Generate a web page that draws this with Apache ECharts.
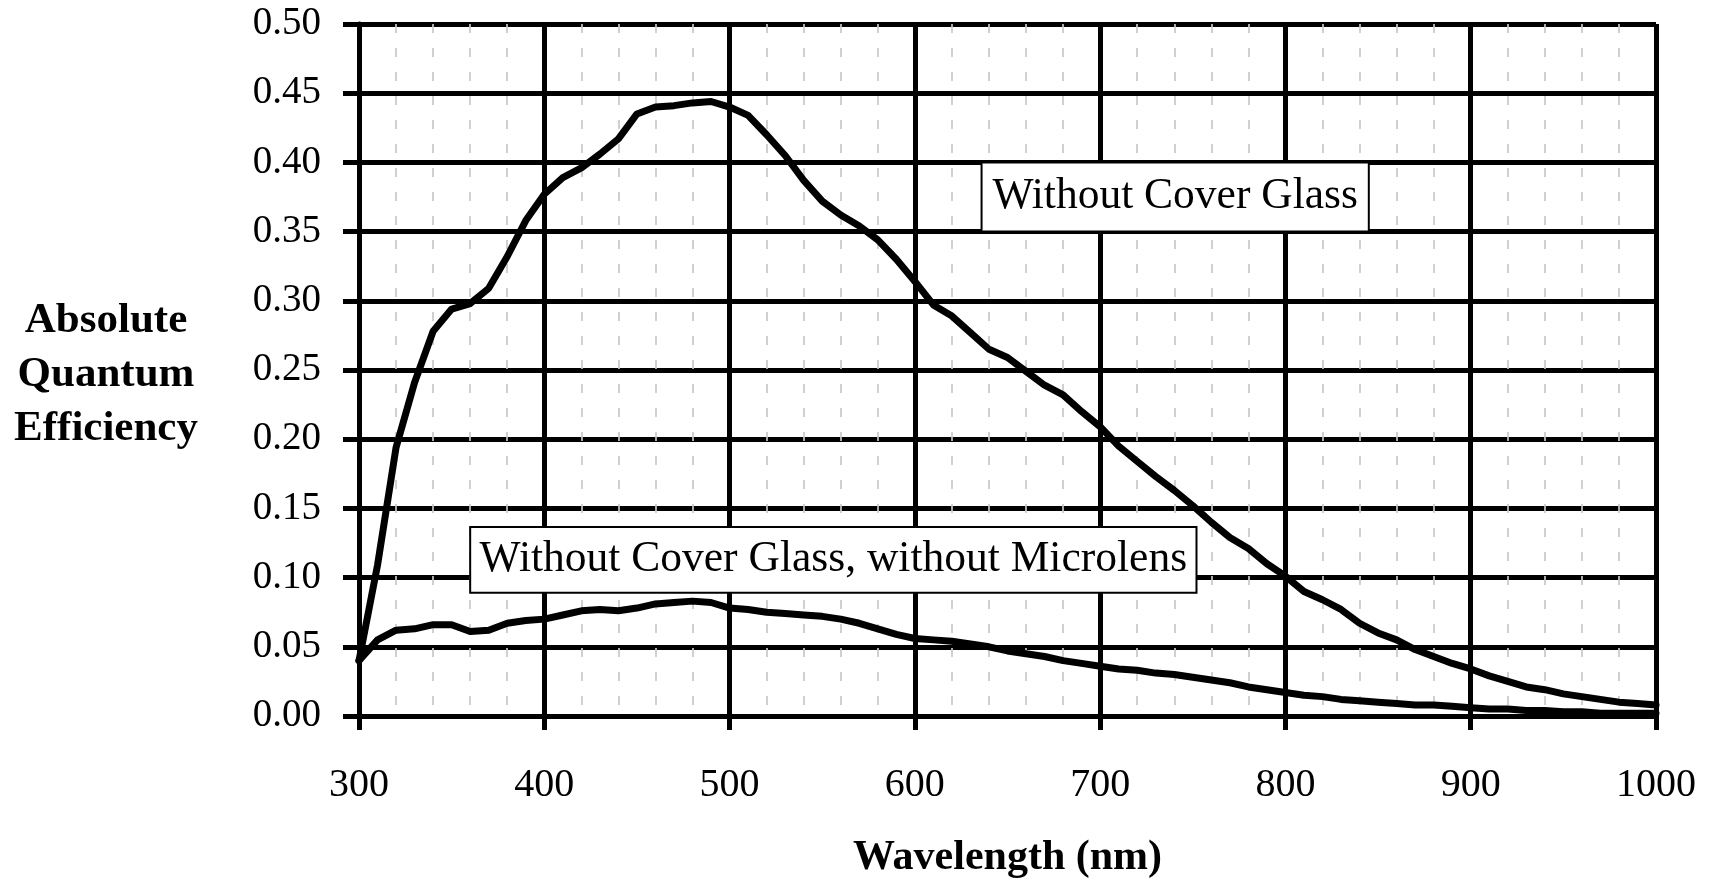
<!DOCTYPE html>
<html>
<head>
<meta charset="utf-8">
<title>Absolute Quantum Efficiency</title>
<script src="https://cdn.jsdelivr.net/npm/echarts@6/dist/echarts.min.js"></script>
<style>
  html, body { margin: 0; padding: 0; background: #fff; }
  #chart { width: 1713px; height: 878px; }
</style>
</head>
<body>
<div id="chart"></div>
<script>
// Wavelength samples (nm), 10 nm apart
const wavelengths = [
  300, 310, 320, 330, 340, 350, 360, 370, 380, 390,
  400, 410, 420, 430, 440, 450, 460, 470, 480, 490,
  500, 510, 520, 530, 540, 550, 560, 570, 580, 590,
  600, 610, 620, 630, 640, 650, 660, 670, 680, 690,
  700, 710, 720, 730, 740, 750, 760, 770, 780, 790,
  800, 810, 820, 830, 840, 850, 860, 870, 880, 890,
  900, 910, 920, 930, 940, 950, 960, 970, 980, 990,
  1000
];

// Quantum efficiency without cover glass
const qeNoCoverGlass = [
  0.040, 0.109, 0.194, 0.241, 0.278, 0.294, 0.298, 0.309, 0.332, 0.358,
  0.377, 0.389, 0.396, 0.406, 0.417, 0.435, 0.440, 0.441, 0.443, 0.444,
  0.440, 0.434, 0.420, 0.405, 0.387, 0.372, 0.362, 0.354, 0.344, 0.330,
  0.314, 0.297, 0.289, 0.277, 0.265, 0.259, 0.249, 0.239, 0.232, 0.220,
  0.209, 0.195, 0.184, 0.173, 0.163, 0.152, 0.140, 0.129, 0.121, 0.110,
  0.101, 0.090, 0.084, 0.077, 0.067, 0.060, 0.055, 0.048, 0.043, 0.038,
  0.034, 0.029, 0.025, 0.021, 0.019, 0.016, 0.014, 0.012, 0.010, 0.009,
  0.008
];

// Quantum efficiency without cover glass and without microlens
const qeNoCoverNoLens = [
  0.040, 0.055, 0.062, 0.063, 0.066, 0.066, 0.061, 0.062, 0.067, 0.069,
  0.070, 0.073, 0.076, 0.077, 0.076, 0.078, 0.081, 0.082, 0.083, 0.082,
  0.078, 0.077, 0.075, 0.074, 0.073, 0.072, 0.070, 0.067, 0.063, 0.059,
  0.056, 0.055, 0.054, 0.052, 0.050, 0.047, 0.045, 0.043, 0.040, 0.038,
  0.036, 0.034, 0.033, 0.031, 0.030, 0.028, 0.026, 0.024, 0.021, 0.019,
  0.017, 0.015, 0.014, 0.012, 0.011, 0.010, 0.009, 0.008, 0.008, 0.007,
  0.006, 0.005, 0.005, 0.004, 0.004, 0.003, 0.003, 0.002, 0.002, 0.002,
  0.002
];

// Annotation boxes: [label, x from, x to, y from, y to] in data units
const labelBoxes = [
  ['Without Cover Glass', 636, 845, 0.35, 0.40],
  ['Without Cover Glass, without Microlens', 360, 752, 0.089, 0.1365]
];

const yTitleLines = ['Absolute', 'Quantum', 'Efficiency'];

const serif = '"Liberation Serif", "Times New Roman", serif';

const chart = echarts.init(document.getElementById('chart'), null, { renderer: 'canvas' });

function pairs(ys) {
  return wavelengths.map((x, i) => [x, ys[i]]);
}

const majorLine = { color: '#000', width: 5 };

chart.setOption({
  backgroundColor: '#fff',
  animation: false,
  grid: {
    left: 359, right: 57, top: 24, bottom: 162,
    outerBoundsMode: 'none'
  },
  // Stacked, centred y-axis title to the left of the tick labels
  graphic: [{
    type: 'text',
    x: 106,
    y: 294,
    silent: true,
    style: {
      text: yTitleLines.join('\n'),
      fontFamily: serif, fontWeight: 'bold', fontSize: 43,
      fill: '#000', align: 'center', verticalAlign: 'top', lineHeight: 54
    }
  }],
  xAxis: {
    type: 'value',
    min: 300, max: 1000, interval: 100,
    name: 'Wavelength (nm)',
    nameLocation: 'middle',
    nameGap: 121,
    nameTextStyle: { fontFamily: serif, fontWeight: 'bold', fontSize: 42, color: '#000' },
    axisLine: { show: true, onZero: false, lineStyle: majorLine },
    axisTick: { show: true, inside: false, length: 14, lineStyle: majorLine },
    axisLabel: {
      margin: 49, fontFamily: serif, fontSize: 40, color: '#000',
      formatter: v => String(v)
    },
    splitLine: { show: true, lineStyle: majorLine },
    minorTick: { show: false, splitNumber: 5 },
    minorSplitLine: {
      show: true,
      lineStyle: { color: '#c8c8c8', width: 1.7, type: [9, 15] }
    }
  },
  yAxis: {
    type: 'value',
    min: 0, max: 0.5, interval: 0.05,
    axisLine: { show: true, lineStyle: majorLine },
    axisTick: { show: true, inside: false, length: 16, lineStyle: majorLine },
    axisLabel: {
      margin: 38, fontFamily: serif, fontSize: 39, color: '#000',
      formatter: v => v.toFixed(2)
    },
    splitLine: { show: true, lineStyle: majorLine }
  },
  series: [
    {
      name: 'Without Cover Glass',
      type: 'line',
      data: pairs(qeNoCoverGlass),
      showSymbol: false,
      symbol: 'none',
      lineStyle: { color: '#000', width: 7, join: 'round', cap: 'round' },
      markArea: {
        silent: true,
        itemStyle: { color: '#fff', borderColor: '#000', borderWidth: 2 },
        label: {
          show: true, position: 'inside',
          fontFamily: serif, fontSize: 43.5, color: '#000'
        },
        data: labelBoxes.map(b => [
          { name: b[0], coord: [b[1], b[3]] },
          { coord: [b[2], b[4]] }
        ])
      }
    },
    {
      name: 'Without Cover Glass, without Microlens',
      type: 'line',
      data: pairs(qeNoCoverNoLens),
      showSymbol: false,
      symbol: 'none',
      lineStyle: { color: '#000', width: 7, join: 'round', cap: 'round' }
    }
  ]
});
</script>
</body>
</html>
